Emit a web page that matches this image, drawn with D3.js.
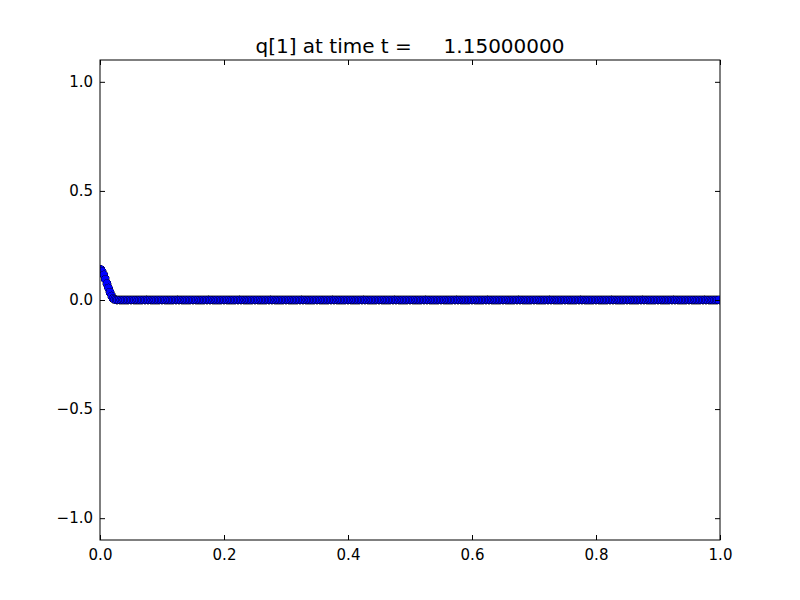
<!DOCTYPE html>
<html>
<head>
<meta charset="utf-8">
<script src="https://cdn.jsdelivr.net/npm/d3@7"></script>
<style>
  body { margin: 0; background: #fff; }
  svg { font-family: "DejaVu Sans", sans-serif; }
</style>
</head>
<body>
<svg id="vis" width="800" height="600"></svg>
<script>
// Chart data
var titleText = 'q[1] at time t =     1.15000000';
var numCells = 400;
// non-zero values near the left boundary, the rest is 0
var headValues = [0.14, 0.13, 0.115, 0.095, 0.075, 0.055, 0.035, 0.018, 0.007, 0.002];
var xTicks = [0.0, 0.2, 0.4, 0.6, 0.8, 1.0];
var yTicks = [-1.0, -0.5, 0.0, 0.5, 1.0];

var qValues = [];
for (var i = 0; i < numCells; i++) {
  qValues.push({ x: (i + 0.5) / numCells, q: i < headValues.length ? headValues[i] : 0 });
}

var margin = {top: 60, right: 80, bottom: 60, left: 100};
var width = 800 - margin.left - margin.right;
var height = 600 - margin.top - margin.bottom;

var svg = d3.select('#vis');
var g = svg.append('g').attr('transform', 'translate(' + margin.left + ',' + margin.top + ')');

// clip markers to the axes box
g.append('clipPath').attr('id', 'plotclip')
  .append('rect').attr('width', width).attr('height', height);

var x = d3.scaleLinear().domain([0, 1]).range([0, width]);
var y = d3.scaleLinear().domain([-1.1, 1.1]).range([height, 0]);

function fmt(d) { return d3.format('.1f')(d).replace('-', '\u2212'); }

// Data points
g.append('g').attr('clip-path', 'url(#plotclip)')
  .selectAll('circle.pt')
  .data(qValues)
  .enter().append('circle')
  .attr('class', 'pt')
  .attr('cx', function(d) { return x(d.x); })
  .attr('cy', function(d) { return y(d.q); })
  .attr('r', 4.1)
  .attr('fill', '#0000ff')
  .attr('stroke', '#000')
  .attr('stroke-width', 0.4)
  .attr('shape-rendering', 'crispEdges');

// Axes (ticks pointing inward)
var tickLen = 5;
var axB = g.append('g').attr('transform', 'translate(0,' + height + ')')
  .call(d3.axisBottom(x).tickValues(xTicks).tickFormat(fmt).tickSizeInner(-tickLen).tickSizeOuter(0).tickPadding(9));
var axT = g.append('g')
  .call(d3.axisTop(x).tickValues(xTicks).tickFormat('').tickSizeInner(-tickLen).tickSizeOuter(0));
var axL = g.append('g')
  .call(d3.axisLeft(y).tickValues(yTicks).tickFormat(fmt).tickSizeInner(-tickLen).tickSizeOuter(0).tickPadding(7));
var axR = g.append('g').attr('transform', 'translate(' + width + ',0)')
  .call(d3.axisRight(y).tickValues(yTicks).tickFormat('').tickSizeInner(-tickLen).tickSizeOuter(0));

[axB, axT, axL, axR].forEach(function(a) {
  a.select('.domain').remove();
  a.selectAll('line').attr('stroke', '#000');
  a.selectAll('text').attr('fill', '#000').style('font-size', '15px').style('font-family', '"DejaVu Sans", sans-serif');
});

// Frame
g.append('rect')
  .attr('width', width).attr('height', height)
  .attr('fill', 'none').attr('stroke', '#000').attr('stroke-width', 1);

// Title
svg.append('text')
  .attr('x', margin.left + width / 2)
  .attr('y', 53)
  .attr('text-anchor', 'middle')
  .style('font-size', '20px')
  .style('white-space', 'pre')
  .attr('xml:space', 'preserve')
  .text(titleText);
</script>
</body>
</html>
